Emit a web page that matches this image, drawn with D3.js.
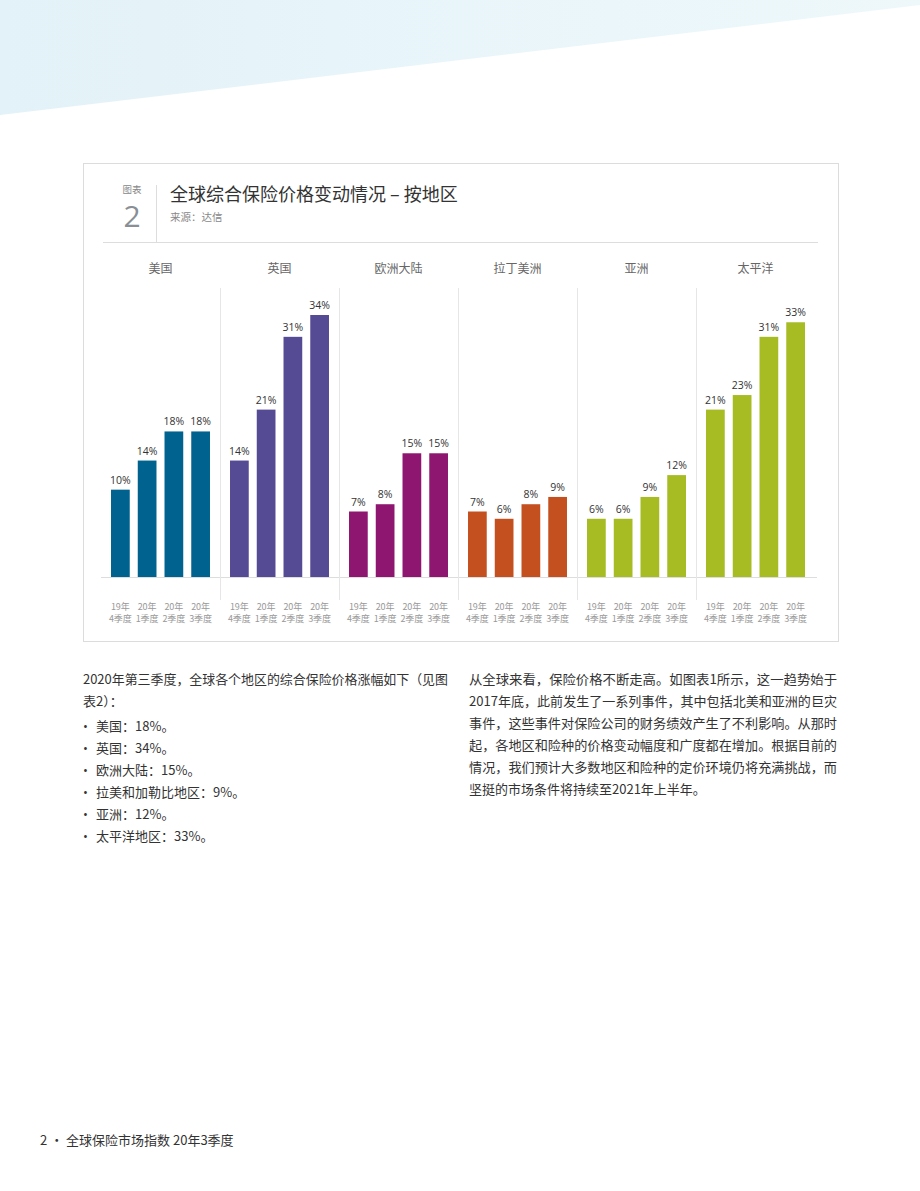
<!DOCTYPE html><html><head><meta charset="utf-8"><script src="https://cdn.jsdelivr.net/npm/d3@7"></script>
<style>body{margin:0;background:#fff;font-family:"Noto Sans CJK SC","Noto Sans",sans-serif}</style></head><body><svg id="c" width="920" height="1191"></svg>
<script>
const regions=["美国","英国","欧洲大陆","拉丁美洲","亚洲","太平洋"];
const quarters=[["19年","4季度"],["20年","1季度"],["20年","2季度"],["20年","3季度"]];
const values=[[10,14,18,18],[14,21,31,34],[7,8,15,15],[7,6,8,9],[6,6,9,12],[21,23,31,33]];
const colors=["#00628f","#554a94","#8f1670","#c5501f","#a6bc22","#a6bc22"];
const leftText=["2020年第三季度，全球各个地区的综合保险价格涨幅如下（见图","表2）："];
const bullets=["美国：18%。","英国：34%。","欧洲大陆：15%。","拉美和加勒比地区：9%。","亚洲：12%。","太平洋地区：33%。"];
const rightText=["从全球来看，保险价格不断走高。如图表1所示，这一趋势始于","2017年底，此前发生了一系列事件，其中包括北美和亚洲的巨灾","事件，这些事件对保险公司的财务绩效产生了不利影响。从那时","起，各地区和险种的价格变动幅度和广度都在增加。根据目前的","情况，我们预计大多数地区和险种的定价环境仍将充满挑战，而","坚挺的市场条件将持续至2021年上半年。"];
const svg=d3.select("#c");
const g0=svg.append("defs").append("linearGradient").attr("id","bg").attr("x1",0).attr("x2",1);
g0.append("stop").attr("offset",0).attr("stop-color","#e3f2f8");g0.append("stop").attr("offset",1).attr("stop-color","#eef8fb");
svg.append("path").attr("d","M0,0H920V5L0,115Z").attr("fill","url(#bg)");
svg.append("rect").attr("x",83.5).attr("y",163.5).attr("width",755).attr("height",478).attr("fill","none").attr("stroke","#dcdcdc");
svg.append("text").attr("x",132).attr("y",193).attr("text-anchor","middle").attr("font-size",9.5).attr("fill","#888").text("图表");
svg.append("text").attr("x",132).attr("y",227).attr("text-anchor","middle").attr("font-size",30).attr("fill","#8a8f96").attr("font-family","Open Sans").text("2");
svg.append("line").attr("x1",156.5).attr("x2",156.5).attr("y1",185).attr("y2",242).attr("stroke","#ddd");
svg.append("line").attr("x1",103).attr("x2",818).attr("y1",242.5).attr("y2",242.5).attr("stroke","#ddd");
svg.append("text").attr("x",170).attr("y",201).attr("font-size",18).attr("fill","#333").text("全球综合保险价格变动情况 – 按地区");
svg.append("text").attr("x",170).attr("y",221).attr("font-size",10.5).attr("fill","#888").text("来源：达信");
const xr=d3.scaleBand().domain(d3.range(6)).range([101,815]);
const y=d3.scaleLinear().domain([-2,34]).range([577,315]);
svg.append("line").attr("x1",101).attr("x2",817).attr("y1",577.5).attr("y2",577.5).attr("stroke","#ddd");
values.forEach((vs,i)=>{
  const gx=xr(i), w=xr.bandwidth();
  if(i>0) svg.append("line").attr("x1",gx+.5).attr("x2",gx+.5).attr("y1",288).attr("y2",600).attr("stroke","#e6e6e6");
  svg.append("text").attr("x",gx+w/2).attr("y",273).attr("text-anchor","middle").attr("font-size",12).attr("fill","#666").text(regions[i]);
  const xb=d3.scaleBand().domain(d3.range(4)).range([gx+6,gx+w-6]).paddingInner(0.3).paddingOuter(0.15);
  vs.forEach((v,j)=>{
    const x=xb(j), bw=xb.bandwidth();
    svg.append("rect").attr("x",x).attr("y",y(v)).attr("width",bw).attr("height",577-y(v)).attr("fill",colors[i]);
    svg.append("text").attr("x",x+bw/2).attr("y",y(v)-6).attr("text-anchor","middle").attr("font-size",10.5).attr("fill","#333").attr("font-family","Open Sans").text(v+"%");
    quarters[j].forEach((q,k)=>svg.append("text").attr("x",x+bw/2).attr("y",610+k*12).attr("text-anchor","middle").attr("font-size",9).attr("fill","#999").text(q));
  });
});
const fs=13,lh=22;
leftText.forEach((t,i)=>svg.append("text").attr("x",83).attr("y",684+i*lh).attr("font-size",fs).attr("fill","#333").attr("textLength",i==0?365:null).attr("lengthAdjust","spacingAndGlyphs").text(t));
bullets.forEach((t,i)=>{svg.append("text").attr("x",83).attr("y",731+i*lh).attr("font-size",fs).attr("fill","#333").attr("font-family","Open Sans").text("•");
 svg.append("text").attr("x",96).attr("y",731+i*lh).attr("font-size",fs).attr("fill","#333").text(t);});
rightText.forEach((t,i)=>svg.append("text").attr("x",469).attr("y",684+i*lh).attr("font-size",fs).attr("fill","#333").attr("textLength",i<5?368:null).attr("lengthAdjust","spacingAndGlyphs").text(t));
svg.append("text").attr("x",40).attr("y",1145).attr("font-size",13).attr("fill","#333").text("2 • 全球保险市场指数 20年3季度");
</script></body></html>
